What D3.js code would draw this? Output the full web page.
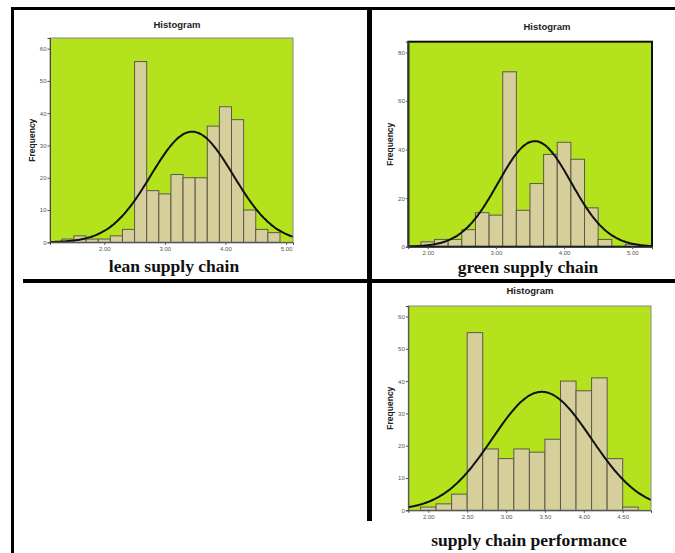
<!DOCTYPE html>
<html>
<head>
<meta charset="utf-8">
<script src="https://cdn.jsdelivr.net/npm/d3@7"></script>
<style>
  body { margin: 0; background: #fff; }
  svg { display: block; }
</style>
</head>
<body>
<script>
// three SPSS style histograms with a normal curve on top

// lean supply chain
var leanBins = [1.3, 1.5, 1.7, 1.9, 2.1, 2.3, 2.5, 2.7, 2.9, 3.1, 3.3, 3.5, 3.7, 3.9, 4.1, 4.3, 4.5, 4.7];
var leanCounts = [1, 2, 1, 1, 2, 4, 56, 16, 15, 21, 20, 20, 36, 42, 38, 10, 4, 3];
var leanTicksX = [2, 3, 4, 5];
var leanTicksY = [0, 10, 20, 30, 40, 50, 60];
var leanMean = 3.45, leanSD = 0.68;

// green supply chain
var greenBins = [1.9, 2.1, 2.3, 2.5, 2.7, 2.9, 3.1, 3.3, 3.5, 3.7, 3.9, 4.1, 4.3, 4.5, 4.7, 4.9];
var greenCounts = [2, 3, 3, 7, 14, 13, 72, 15, 26, 38, 43, 36, 16, 3, 0, 1];
var greenTicksX = [2, 3, 4, 5];
var greenTicksY = [0, 20, 40, 60, 80];
var greenMean = 3.57, greenSD = 0.536;

// supply chain performance
var perfBins = [1.9, 2.1, 2.3, 2.5, 2.7, 2.9, 3.1, 3.3, 3.5, 3.7, 3.9, 4.1, 4.3, 4.5];
var perfCounts = [1, 2, 5, 55, 19, 16, 19, 18, 22, 40, 37, 41, 16, 1];
var perfTicksX = [2, 2.5, 3, 3.5, 4, 4.5];
var perfTicksY = [0, 10, 20, 30, 40, 50, 60];
var perfMean = 3.46, perfSD = 0.635;

var binWidth = 0.2;

var W = 675, H = 553;
var svg = d3.select("body").append("svg")
    .attr("width", W)
    .attr("height", H);

var green = "#b4e31e";
var barFill = "#d6cf9c";
var barStroke = "#5a5a4a";

function drawHist(opt) {
    var g = svg.append("g");
    var x = d3.scaleLinear().domain(opt.xDomain).range([opt.left, opt.right]);
    var y = d3.scaleLinear().domain(opt.yDomain).range([opt.bottom, opt.top]);

    g.append("rect")
        .attr("x", opt.left).attr("y", opt.top)
        .attr("width", opt.right - opt.left)
        .attr("height", opt.bottom - opt.top)
        .attr("fill", green);

    var data = opt.bins.map(function(b, i) { return {x0: b, n: opt.counts[i]}; })
        .filter(function(d) { return d.n > 0; });

    g.selectAll("rect.bar")
        .data(data)
        .enter()
        .append("rect")
        .attr("class", "bar")
        .attr("x", function(d) { return x(d.x0); })
        .attr("y", function(d) { return y(d.n); })
        .attr("width", function(d) { return x(d.x0 + binWidth) - x(d.x0); })
        .attr("height", function(d) { return y(0) - y(d.n); })
        .attr("fill", barFill)
        .attr("stroke", barStroke)
        .attr("stroke-width", 1);

    // fitted normal curve
    var n = d3.sum(opt.counts);
    var xs = d3.range(200).map(function(i) {
        return opt.xDomain[0] + (opt.xDomain[1] - opt.xDomain[0]) * i / 199;
    });
    var line = d3.line()
        .x(function(v) { return x(v); })
        .y(function(v) {
            var z = (v - opt.mean) / opt.sd;
            return y(n * binWidth * Math.exp(-0.5 * z * z) / (opt.sd * Math.sqrt(2 * Math.PI)));
        })
        .curve(d3.curveBasis);
    g.append("path")
        .datum(xs)
        .attr("d", line)
        .attr("fill", "none")
        .attr("stroke", "#111")
        .attr("stroke-width", 2);

    // frame
    g.append("rect")
        .attr("x", opt.left).attr("y", opt.top)
        .attr("width", opt.right - opt.left)
        .attr("height", opt.bottom - opt.top)
        .attr("fill", "none")
        .attr("stroke", opt.frame)
        .attr("stroke-width", opt.frameWidth);

    var ax = g.append("g")
        .attr("transform", "translate(0," + opt.bottom + ")")
        .call(d3.axisBottom(x).tickValues(opt.ticksX).tickFormat(d3.format(".2f")).tickSize(2.5).tickPadding(2));
    var ay = g.append("g")
        .attr("transform", "translate(" + opt.left + ",0)")
        .call(d3.axisLeft(y).tickValues(opt.ticksY).tickSize(2.5).tickPadding(1));
    [ax, ay].forEach(function(a) {
        a.select(".domain").attr("stroke", "#444");
        a.selectAll(".tick line").attr("stroke", "#555");
        a.selectAll("text")
            .attr("fill", "#555")
            .style("font-family", "Arial, 'Liberation Sans', sans-serif")
            .style("font-size", "6px");
    });

    g.append("text")
        .attr("x", opt.titleX).attr("y", opt.titleY)
        .attr("text-anchor", "middle")
        .style("font-family", "Arial, 'Liberation Sans', sans-serif")
        .style("font-weight", "bold")
        .style("font-size", "9.5px")
        .attr("fill", "#222")
        .text("Histogram");

    g.append("text")
        .attr("transform", "translate(" + opt.freqX + "," + ((opt.top + opt.bottom) / 2) + ") rotate(-90)")
        .attr("text-anchor", "middle")
        .style("font-family", "Arial, 'Liberation Sans', sans-serif")
        .style("font-weight", "bold")
        .style("font-size", "8.5px")
        .attr("fill", "#222")
        .text("Frequency");

    g.append("text")
        .attr("x", opt.labelX).attr("y", opt.labelY)
        .attr("text-anchor", "middle")
        .style("font-family", "'Liberation Serif', 'Times New Roman', serif")
        .style("font-weight", "bold")
        .style("font-size", "17.5px")
        .attr("fill", "#111")
        .text(opt.label);
}

drawHist({
    bins: leanBins, counts: leanCounts, ticksX: leanTicksX, ticksY: leanTicksY,
    mean: leanMean, sd: leanSD,
    xDomain: [1.104, 5.115], yDomain: [0, 63.3],
    left: 50, right: 293, top: 38, bottom: 242.3,
    frame: "#888", frameWidth: 1,
    titleX: 177, titleY: 28, freqX: 35,
    label: "lean supply chain", labelX: 174, labelY: 272
});

drawHist({
    bins: greenBins, counts: greenCounts, ticksX: greenTicksX, ticksY: greenTicksY,
    mean: greenMean, sd: greenSD,
    xDomain: [1.715, 5.29], yDomain: [0, 84.4],
    left: 408.3, right: 652, top: 41.7, bottom: 246.7,
    frame: "#111", frameWidth: 2,
    titleX: 547, titleY: 30, freqX: 393,
    label: "green supply chain", labelX: 528, labelY: 273
});

drawHist({
    bins: perfBins, counts: perfCounts, ticksX: perfTicksX, ticksY: perfTicksY,
    mean: perfMean, sd: perfSD,
    xDomain: [1.743, 4.864], yDomain: [0, 63.25],
    left: 408.3, right: 651, top: 306, bottom: 510.3,
    frame: "#888", frameWidth: 1,
    titleX: 530, titleY: 294, freqX: 393,
    label: "supply chain performance", labelX: 529, labelY: 546
});

// table borders
var borders = [
    {x1: 11, y1: 8.5, x2: W, y2: 8.5, w: 3},
    {x1: 12.5, y1: 7, x2: 12.5, y2: H, w: 3},
    {x1: 369.5, y1: 7, x2: 369.5, y2: 521, w: 5},
    {x1: 23, y1: 281, x2: W, y2: 281, w: 4}
];
svg.selectAll("line.border")
    .data(borders)
    .enter()
    .append("line")
    .attr("class", "border")
    .attr("x1", function(d) { return d.x1; })
    .attr("y1", function(d) { return d.y1; })
    .attr("x2", function(d) { return d.x2; })
    .attr("y2", function(d) { return d.y2; })
    .attr("stroke", "#000")
    .attr("stroke-width", function(d) { return d.w; });
</script>
</body>
</html>
